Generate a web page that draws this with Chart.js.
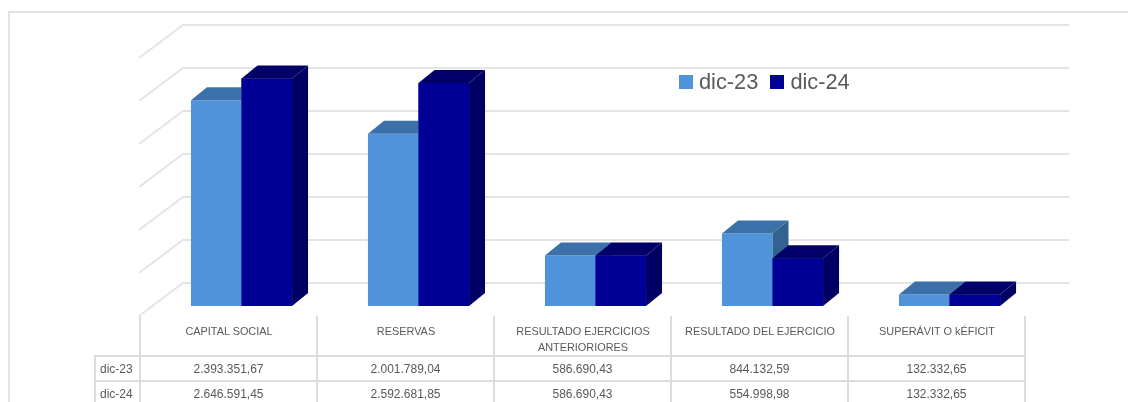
<!DOCTYPE html>
<html>
<head>
<meta charset="utf-8">
<script src="https://cdn.jsdelivr.net/npm/chart.js@4/dist/chart.umd.min.js"></script>
<style>
  html, body { margin: 0; padding: 0; background: #fff; overflow: hidden; }
  #wrap { position: relative; width: 1128px; height: 402px; overflow: hidden; font-family: "Liberation Sans", sans-serif; color: #595959; }
  #frame { position: absolute; left: 8px; top: 11px; width: 1200px; height: 500px; border: 2px solid #e2e2e2; }
  canvas { position: absolute; left: 0; top: 0; filter: blur(0.4px); }
  #legend { position: absolute; left: 679px; top: 69px; font-size: 21.8px; line-height: 26px; white-space: nowrap; }
  #legend span { display: inline-block; vertical-align: top; }
  #legend .box { width: 14px; height: 14px; margin: 6px 6px 0 0; }
  #legend .name { margin-right: 12px; }
  table { position: absolute; left: 94px; top: 316px; border-collapse: collapse; table-layout: fixed; width: 930px; font-size: 12px; filter: blur(0.3px); }
  td { border: 2px solid #dcdcdc; text-align: center; padding: 0; overflow: hidden; }
  td.blank { border-top: none; border-left: none; }
  tr.head td { height: 38px; font-size: 10.9px; line-height: 15.5px; vertical-align: top; padding: 8px 0 0 1px; box-sizing: border-box; border-top: none; }
  tr.row td { height: 23px; }
  td.name { text-align: left; padding-left: 4px; }
</style>
</head>
<body>
<div id="wrap">
  <div id="frame"></div>
  <canvas id="chart" width="1128" height="402"></canvas>
  <div id="legend"></div>
  <table id="tabla"></table>
</div>
<script>
var categories = ["CAPITAL SOCIAL", "RESERVAS", "RESULTADO EJERCICIOS ANTERIORIORES", "RESULTADO DEL EJERCICIO", "SUPERÁVIT O kÉFICIT"];
var seriesNames = ["dic-23", "dic-24"];
var dic23 = [2393351.67, 2001789.04, 586690.43, 844132.59, 132332.65];
var dic24 = [2646591.45, 2592681.85, 586690.43, 554998.98, 132332.65];
var yTicks = [0, 500000, 1000000, 1500000, 2000000, 2500000, 3000000];

var frontColors = ["#4f94da", "#000096"];
var topColors = ["#3b70a8", "#000068"];
var sideColors = ["#336291", "#000064"];
var depthX = 16, depthY = 13; // fondo de las barras

function formatValue(v) {
  return v.toLocaleString("de-DE", { minimumFractionDigits: 2, maximumFractionDigits: 2 });
}

function poly(ctx, pts, color) {
  ctx.fillStyle = color;
  ctx.beginPath();
  ctx.moveTo(pts[0][0], pts[0][1]);
  for (var i = 1; i < pts.length; i++) ctx.lineTo(pts[i][0], pts[i][1]);
  ctx.closePath();
  ctx.fill();
}

function drawSides(ctx, meta, idx) {
  meta.data.forEach(function (bar) {
    var p = bar.getProps(["x", "y", "base", "width"], true);
    var l = p.x - p.width / 2, r = p.x + p.width / 2;
    poly(ctx, [[l, p.y], [l + depthX, p.y - depthY], [r + depthX, p.y - depthY], [r, p.y]], topColors[idx]);
    poly(ctx, [[r, p.y], [r + depthX, p.y - depthY], [r + depthX, p.base - depthY], [r, p.base]], sideColors[idx]);
  });
}

// Rejilla en perspectiva: pared del fondo y pared lateral
var gridPlugin = {
  id: "grid3d",
  beforeDatasetsDraw: function (chart) {
    var ctx = chart.ctx, y = chart.scales.y;
    ctx.save();
    ctx.strokeStyle = "#e4e4e4";
    ctx.lineWidth = 2;
    yTicks.forEach(function (t) {
      var py = y.getPixelForValue(t);
      ctx.beginPath();
      ctx.moveTo(139, py + 10);
      ctx.lineTo(183, py - 23);
      ctx.lineTo(1069, py - 23);
      ctx.stroke();
    });
    ctx.restore();
  }
};

// Chart.js pinta el primer dataset al final, asi que dic-24 se repinta encima de dic-23
var barSidesPlugin = {
  id: "barSides",
  afterDatasetDraw: function (chart, args) {
    if (args.index !== 0) return;
    var ctx = chart.ctx;
    ctx.save();
    drawSides(ctx, args.meta, 0);
    var meta24 = chart.getDatasetMeta(1);
    meta24.data.forEach(function (bar) { bar.draw(ctx); });
    drawSides(ctx, meta24, 1);
    ctx.restore();
  }
};

new Chart(document.getElementById("chart").getContext("2d"), {
  type: "bar",
  data: {
    labels: categories,
    datasets: [
      { label: seriesNames[0], data: dic23, backgroundColor: frontColors[0] },
      { label: seriesNames[1], data: dic24, backgroundColor: frontColors[1] }
    ]
  },
  options: {
    responsive: false,
    animation: false,
    barPercentage: 1,
    categoryPercentage: 0.571,
    layout: { padding: { left: 153, right: 90, top: 48, bottom: 96 } },
    plugins: { legend: { display: false }, tooltip: { enabled: false } },
    scales: {
      x: { display: false },
      y: { display: false, min: 0, max: 3000000 }
    }
  },
  plugins: [gridPlugin, barSidesPlugin]
});

// Leyenda
var legendHtml = "";
seriesNames.forEach(function (name, i) {
  legendHtml += '<span class="box" style="background:' + frontColors[i] + '"></span><span class="name">' + name + "</span>";
});
document.getElementById("legend").innerHTML = legendHtml;

// Tabla de datos
var html = '<colgroup><col style="width:45px">';
categories.forEach(function () { html += '<col style="width:177px">'; });
html += '</colgroup><tr class="head"><td class="blank"></td>';
categories.forEach(function (c) { html += "<td>" + c + "</td>"; });
html += "</tr>";
[dic23, dic24].forEach(function (values, i) {
  html += '<tr class="row"><td class="name">' + seriesNames[i] + "</td>";
  values.forEach(function (v) { html += "<td>" + formatValue(v) + "</td>"; });
  html += "</tr>";
});
document.getElementById("tabla").innerHTML = html;
</script>
</body>
</html>
